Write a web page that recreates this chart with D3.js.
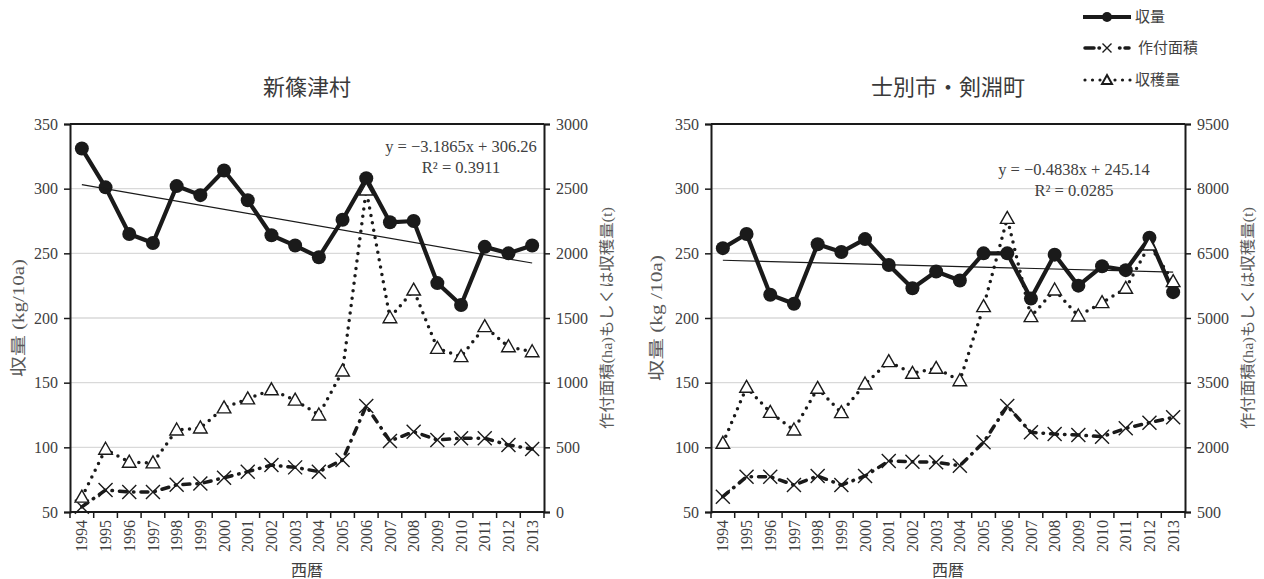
<!DOCTYPE html>
<html><head><meta charset="utf-8">
<script src="https://cdn.jsdelivr.net/npm/d3@7"></script>
<style>
body{margin:0;background:#fff}
svg{display:block}
text{font-family:"Liberation Serif","Noto Sans CJK JP",serif}
</style>
</head><body>
<svg id="c" width="1264" height="579"></svg>
<script>
// ---------- data ----------
const years = ["1994","1995","1996","1997","1998","1999","2000","2001","2002","2003",
               "2004","2005","2006","2007","2008","2009","2010","2011","2012","2013"];

const shinYield   = [331,301,265,258,302,295,314,291,264,256,247,276,308,274,275,227,210,255,250,256];
const shinArea    = [40,170,155,155,210,220,265,312,363,345,312,402,820,549,621,557,570,570,518,487];
const shinHarvest = [115,485,385,380,634,650,805,875,945,865,750,1090,2490,1502,1716,1265,1201,1433,1278,1239];

const shibYield   = [254,265,218,211,257,251,261,241,223,236,229,250,250,215,249,225,240,237,262,220];
const shibArea    = [855,1319,1319,1126,1335,1126,1335,1683,1667,1653,1574,2116,2959,2348,2309,2286,2247,2441,2572,2696];
const shibHarvest = [2094,3392,2812,2402,3369,2804,3469,3987,3717,3833,3546,5263,7312,5031,5650,5047,5356,5689,6694,5843];

const leftTicks      = [50,100,150,200,250,300,350];
const shinRightTicks = [0,500,1000,1500,2000,2500,3000];
const shibRightTicks = [500,2000,3500,5000,6500,8000,9500];

const shinTrend = [-3.1865, 306.26];   // slope, intercept (x = 1..20)
const shibTrend = [-0.4838, 245.14];
const shinR2 = "0.3911";
const shibR2 = "0.0285";

const seriesNames = ["収量","作付面積","収穫量"];
const titles = ["新篠津村","士別市・剣淵町"];
const xLabel = "西暦";
const yLabels = ["収量 (kg/10a)","収量 (kg /10a)"];
const y2Label = "作付面積(ha)もしくは収穫量(t)";

// ---------- drawing ----------
const svg = d3.select("#c");
const INK = "#1a1a1a";
const TXT = "#404040";
const SERIF = '"Liberation Serif","Noto Sans CJK JP",serif';

function tri(g){ g.append("path").attr("d","M0,-7L6.8,5L-6.8,5Z").attr("fill","#fff").attr("stroke",INK).attr("stroke-width",1.4); }
function cross(g,s){ g.append("path").attr("d",`M${-s},${-s}L${s},${s}M${-s},${s}L${s},${-s}`).attr("stroke",INK).attr("stroke-width",1.4).attr("fill","none"); }

const AREA_DASH = "7,7,0.5,7";
const HARV_DASH = "0,7.5";

function drawChart(cfg){
  const {x0,x1,yTop,yBot} = cfg;
  const g = svg.append("g");
  const x = d3.scaleBand().domain(years).range([x0,x1]);
  const bw = x.bandwidth();
  const cx = d => x(d) + bw/2;
  const yL = d3.scaleLinear().domain([leftTicks[0], leftTicks[leftTicks.length-1]]).range([yBot,yTop]);
  const rt = cfg.rightTicks;
  const yR = d3.scaleLinear().domain([rt[0], rt[rt.length-1]]).range([yBot,yTop]);

  // grid
  g.append("g").selectAll("line").data(leftTicks.slice(1,-1)).join("line")
    .attr("x1",x0).attr("x2",x1).attr("y1",d=>yL(d)).attr("y2",d=>yL(d))
    .attr("stroke","#d9d9d9").attr("stroke-width",1.3);

  // top border
  g.append("line").attr("x1",x0).attr("x2",x1).attr("y1",yTop).attr("y2",yTop)
    .attr("stroke",INK).attr("stroke-width",2);

  // left axis
  const la = g.append("g").attr("transform",`translate(${x0},0)`)
    .call(d3.axisLeft(yL).tickValues(leftTicks).tickSize(6).tickPadding(6));
  // right axis
  const ra = g.append("g").attr("transform",`translate(${x1},0)`)
    .call(d3.axisRight(yR).tickValues(rt).tickSize(6).tickPadding(6).tickFormat(d3.format("d")));
  // bottom axis (labels at band centres)
  const ba = g.append("g").attr("transform",`translate(0,${yBot})`)
    .call(d3.axisBottom(x).tickSize(0).tickPadding(0));
  ba.selectAll(".tick text").attr("transform","rotate(-90)")
    .attr("text-anchor","end").attr("x",-8).attr("y",0).attr("dy","0.35em");
  // bottom tick marks at band boundaries
  const bounds = years.map(d=>x(d)).concat([x1]);
  g.append("g").selectAll("line").data(bounds).join("line")
    .attr("x1",d=>d).attr("x2",d=>d).attr("y1",yBot).attr("y2",yBot+6)
    .attr("stroke",INK).attr("stroke-width",1.5);

  [la,ra,ba].forEach(a=>{
    a.attr("font-family",SERIF).attr("font-size",16);
    a.select(".domain").attr("stroke",INK).attr("stroke-width",2);
    a.selectAll(".tick line").attr("stroke",INK).attr("stroke-width",1.5);
    a.selectAll(".tick text").attr("fill",TXT).style("font-size","16px");
  });
  ba.select(".domain").attr("d",`M${x0},0H${x1}`);

  // yield series (primary)
  g.append("path").datum(cfg.yield)
    .attr("d", d3.line().x((d,i)=>cx(years[i])).y(d=>yL(d)))
    .attr("fill","none").attr("stroke",INK).attr("stroke-width",4.2).attr("stroke-linejoin","round");
  g.append("g").selectAll("circle").data(cfg.yield).join("circle")
    .attr("cx",(d,i)=>cx(years[i])).attr("cy",d=>yL(d)).attr("r",7).attr("fill",INK);

  // trend line
  const tr = cfg.trend;
  const tx = [1, years.length];
  g.append("line")
    .attr("x1",cx(years[0])).attr("y1",yL(tr[0]*tx[0]+tr[1]))
    .attr("x2",cx(years[years.length-1])).attr("y2",yL(tr[0]*tx[1]+tr[1]))
    .attr("stroke",INK).attr("stroke-width",1.2);

  // area series (secondary)
  g.append("path").datum(cfg.area)
    .attr("d", d3.line().x((d,i)=>cx(years[i])).y(d=>yR(d)))
    .attr("fill","none").attr("stroke",INK).attr("stroke-width",3.5)
    .attr("stroke-linecap","round").attr("stroke-dasharray",AREA_DASH);
  g.append("g").selectAll("g").data(cfg.area).join("g")
    .attr("transform",(d,i)=>`translate(${cx(years[i])},${yR(d)})`).each(function(){ cross(d3.select(this),7); });

  // harvest series (secondary)
  g.append("path").datum(cfg.harvest)
    .attr("d", d3.line().x((d,i)=>cx(years[i])).y(d=>yR(d)))
    .attr("fill","none").attr("stroke",INK).attr("stroke-width",3.5)
    .attr("stroke-linecap","round").attr("stroke-dasharray",HARV_DASH);
  g.append("g").selectAll("g").data(cfg.harvest).join("g")
    .attr("transform",(d,i)=>`translate(${cx(years[i])},${yR(d)})`).each(function(){ tri(d3.select(this)); });

  // equation
  const sgn = tr[1] >= 0 ? "+" : "−";
  g.append("text").attr("x",cfg.eqX).attr("y",cfg.eqY).attr("text-anchor","middle")
    .attr("fill",TXT).style("font-size","16.5px")
    .text(`y = ${tr[0]<0?"−":""}${Math.abs(tr[0])}x ${sgn} ${Math.abs(tr[1])}`);
  g.append("text").attr("x",cfg.eqX).attr("y",cfg.eqY+21).attr("text-anchor","middle")
    .attr("fill",TXT).style("font-size","16.5px").text(`R² = ${cfg.r2}`);

  // titles & labels
  const mid = (x0+x1)/2;
  g.append("text").attr("x",mid).attr("y",95).attr("text-anchor","middle")
    .attr("fill","#3a3a3a").style("font-size","22px").text(cfg.title);
  g.append("text").attr("x",mid).attr("y",576).attr("text-anchor","middle")
    .attr("fill",TXT).style("font-size","16px").text(xLabel);
  g.append("text").attr("transform",`translate(${cfg.ylx},${(yTop+yBot)/2}) rotate(-90)`)
    .attr("text-anchor","middle").attr("dy","0.35em")
    .attr("textLength",cfg.ylLen).attr("lengthAdjust","spacingAndGlyphs")
    .attr("fill","#595959").style("font-size","16px").text(cfg.ylabel);
  g.append("text").attr("transform",`translate(${cfg.y2lx},${(yTop+yBot)/2}) rotate(-90)`)
    .attr("text-anchor","middle").attr("dy","0.35em")
    .attr("textLength",222).attr("lengthAdjust","spacingAndGlyphs")
    .attr("fill","#595959").style("font-size","15px").text(y2Label);
}

drawChart({x0:70,x1:544,yTop:124,yBot:512,rightTicks:shinRightTicks,
  yield:shinYield,area:shinArea,harvest:shinHarvest,trend:shinTrend,r2:shinR2,
  eqX:461,eqY:152,title:titles[0],ylabel:yLabels[0],ylx:18,y2lx:607,ylLen:118});
drawChart({x0:711,x1:1185,yTop:124,yBot:512,rightTicks:shibRightTicks,
  yield:shibYield,area:shibArea,harvest:shibHarvest,trend:shibTrend,r2:shibR2,
  eqX:1074,eqY:175,title:titles[1],ylabel:yLabels[1],ylx:656,y2lx:1248,ylLen:126});

// ---------- legend ----------
const leg = svg.append("g");
const lx0 = 1083, lx1 = 1131, lm = 1107, ltx = 1135;
const rows = [17,48,80];
// yield
leg.append("line").attr("x1",lx0).attr("x2",lx1).attr("y1",rows[0]).attr("y2",rows[0])
  .attr("stroke",INK).attr("stroke-width",4);
leg.append("circle").attr("cx",lm).attr("cy",rows[0]).attr("r",5).attr("fill",INK);
// area
leg.append("line").attr("x1",lx0+2).attr("x2",lx1-2).attr("y1",rows[1]).attr("y2",rows[1])
  .attr("stroke",INK).attr("stroke-width",3.5).attr("stroke-linecap","round").attr("stroke-dasharray","9,5,0.5,20,0.5,5,9");
cross(leg.append("g").attr("transform",`translate(${lm},${rows[1]})`),4.5);
// harvest
leg.append("line").attr("x1",lx0+2).attr("x2",lx1).attr("y1",rows[2]).attr("y2",rows[2])
  .attr("stroke",INK).attr("stroke-width",3.2).attr("stroke-linecap","round").attr("stroke-dasharray",HARV_DASH);
leg.append("path").attr("transform",`translate(${lm},${rows[2]})`)
  .attr("d","M0,-5L5,4L-5,4Z").attr("fill","#fff").attr("stroke",INK).attr("stroke-width",2);
seriesNames.forEach((n,i)=>{
  leg.append("text").attr("x",ltx + (i===1?3:0)).attr("y",rows[i]).attr("dy","0.36em")
    .attr("fill",TXT).style("font-size","15px").text(n);
});
</script>
</body></html>
